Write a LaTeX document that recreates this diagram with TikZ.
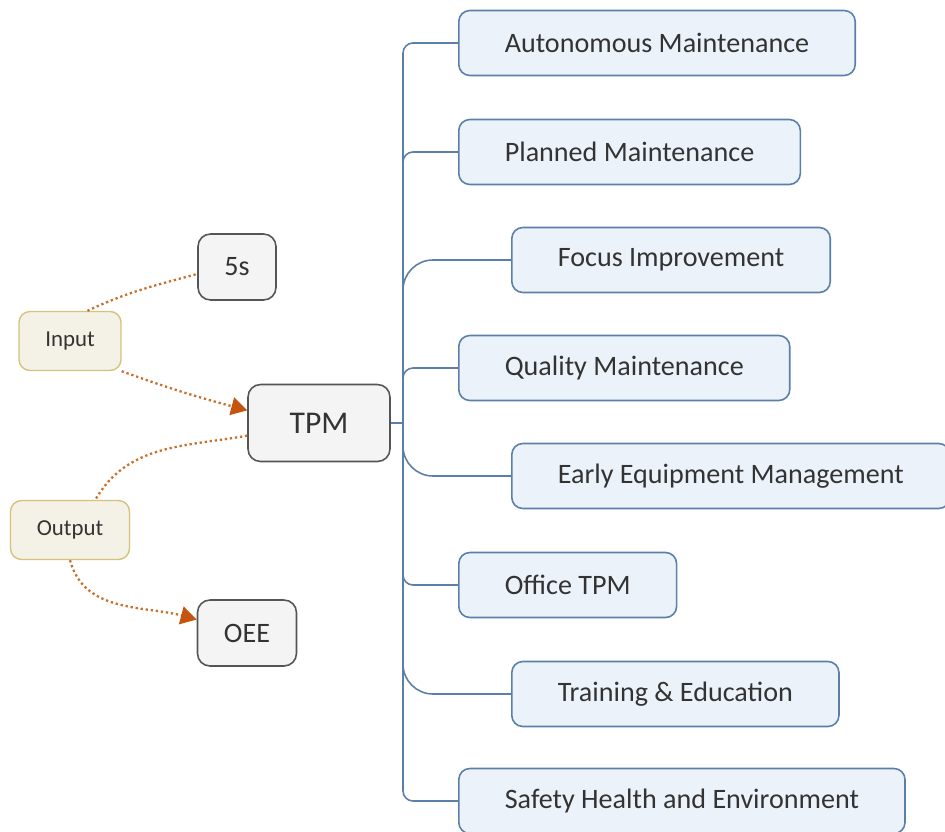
\documentclass[tikz,border=0pt]{standalone}
\usepackage{fontspec}
\setmainfont{Carlito}
\usetikzlibrary{arrows.meta}

\definecolor{pillarfill}{HTML}{EBF2FA}
\definecolor{pillarline}{HTML}{5B7FA8}
\definecolor{corefill}{HTML}{F4F4F4}
\definecolor{coreline}{HTML}{555555}
\definecolor{iofill}{HTML}{F4F2E6}
\definecolor{ioline}{HTML}{D6C27A}
\definecolor{floworange}{HTML}{C8702A}
\definecolor{tipred}{HTML}{C4540F}
\definecolor{textgray}{HTML}{333333}

\begin{document}
\begin{tikzpicture}[x=0.02cm, y=-0.02cm,
        pillar/.style={draw=pillarline, fill=pillarfill, rounded corners=0.22cm, line width=0.9pt,
            inner xsep=0.92cm, minimum height=1.3cm, anchor=west, text=textgray,
            font=\fontsize{16}{19}\selectfont},
        core/.style={draw=coreline, fill=corefill, rounded corners=0.25cm, line width=0.9pt,
            text=textgray, minimum height=1.32cm, font=\fontsize{16}{19}\selectfont},
        io/.style={draw=ioline, fill=iofill, rounded corners=0.22cm, line width=0.8pt,
            minimum height=1.18cm, text=textgray, font=\fontsize{13}{16}\selectfont},
        branch/.style={draw=pillarline, line width=0.9pt},
        flow/.style={draw=floworange, line width=1.3pt, dash pattern=on 1.3pt off 1.6pt}]
        \useasboundingbox (0,0) rectangle (945,831);

        \node[core, minimum width=2.84cm, minimum height=1.54cm, font=\fontsize{18}{22}\selectfont] (tpm) at (319,423) {TPM};
        \node[core, minimum width=1.56cm] (fives) at (237,267) {5s};
        \node[core, minimum width=1.98cm] (oee) at (247,633) {OEE};
        \node[io, minimum width=2.04cm] (input) at (70,341) {Input};
        \node[io, minimum width=2.38cm] (output) at (70,530) {Output};

        \node[pillar] (am) at (458,43) {Autonomous Maintenance};
        \node[pillar] (pm) at (458,152) {Planned Maintenance};
        \node[pillar] (fi) at (511,260) {Focus Improvement};
        \node[pillar] (qm) at (458,368) {Quality Maintenance};
        \node[pillar] (eem) at (511,476) {Early Equipment Management};
        \node[pillar] (otpm) at (458,585) {Office TPM};
        \node[pillar] (te) at (511,694) {Training \& Education};
        \node[pillar] (she) at (458,801) {Safety Health and Environment};

        \coordinate (hub) at (403,423);
        \draw[branch] (tpm.east) -- (hub);
        \foreach \p in {am,pm,qm,otpm,she}
            \draw[branch, rounded corners=0.2cm] (hub) |- (\p.west);
        \foreach \p in {fi,eem,te}
            \draw[branch, rounded corners=0.6cm] (hub) |- (\p.west);

        \draw[flow] (input.60) to[out=25, in=195] (fives.190);
        \draw[flow, -{Triangle[length=0.32cm, width=0.36cm, fill=tipred, color=tipred]}] (input.south east) to[out=-20, in=165] (tpm.170);
        \draw[flow] (tpm.190) to[out=190, in=60] (output.50);
        \draw[flow, -{Triangle[length=0.32cm, width=0.36cm, fill=tipred, color=tipred]}] (output.south) to[out=-75, in=165] (oee.165);
    \end{tikzpicture}
\end{document}
